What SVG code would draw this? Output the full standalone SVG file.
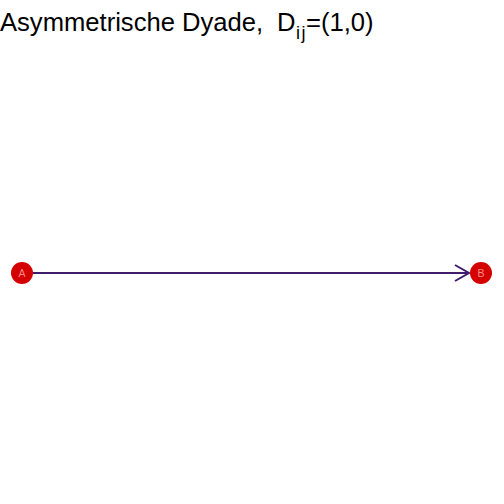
<svg xmlns="http://www.w3.org/2000/svg" width="504" height="504" viewBox="0 0 504 504">
<style>
.node circle{fill:#d40000;}
.node text{font-family:"Liberation Sans",Arial,sans-serif;font-size:10.5px;fill:#ff8a8a;text-anchor:middle;}
.title{font-family:"Liberation Sans",Arial,sans-serif;font-size:25.6px;fill:#000;}
.edge{stroke:#3f1d6b;stroke-width:2;fill:none;}
</style>
<rect width="504" height="504" fill="#fff"/>
<text class="title" y="31"><tspan x="0">Asymmetrische Dyade,</tspan><tspan x="277">D</tspan><tspan x="296" dy="8" font-size="18" letter-spacing="1.5">ij</tspan><tspan x="306" dy="-8">=(1,0)</tspan></text>
<g id="connectors">
<line class="edge" x1="33" y1="273" x2="469" y2="273"/>
<polyline class="edge" points="455,265 469,273 455,281"/>
</g>
<g id="A" class="node"><circle cx="22" cy="273" r="11"/><text x="22" y="277">A</text></g>
<g id="B" class="node"><circle cx="481" cy="273" r="11"/><text x="481" y="277">B</text></g>
</svg>
